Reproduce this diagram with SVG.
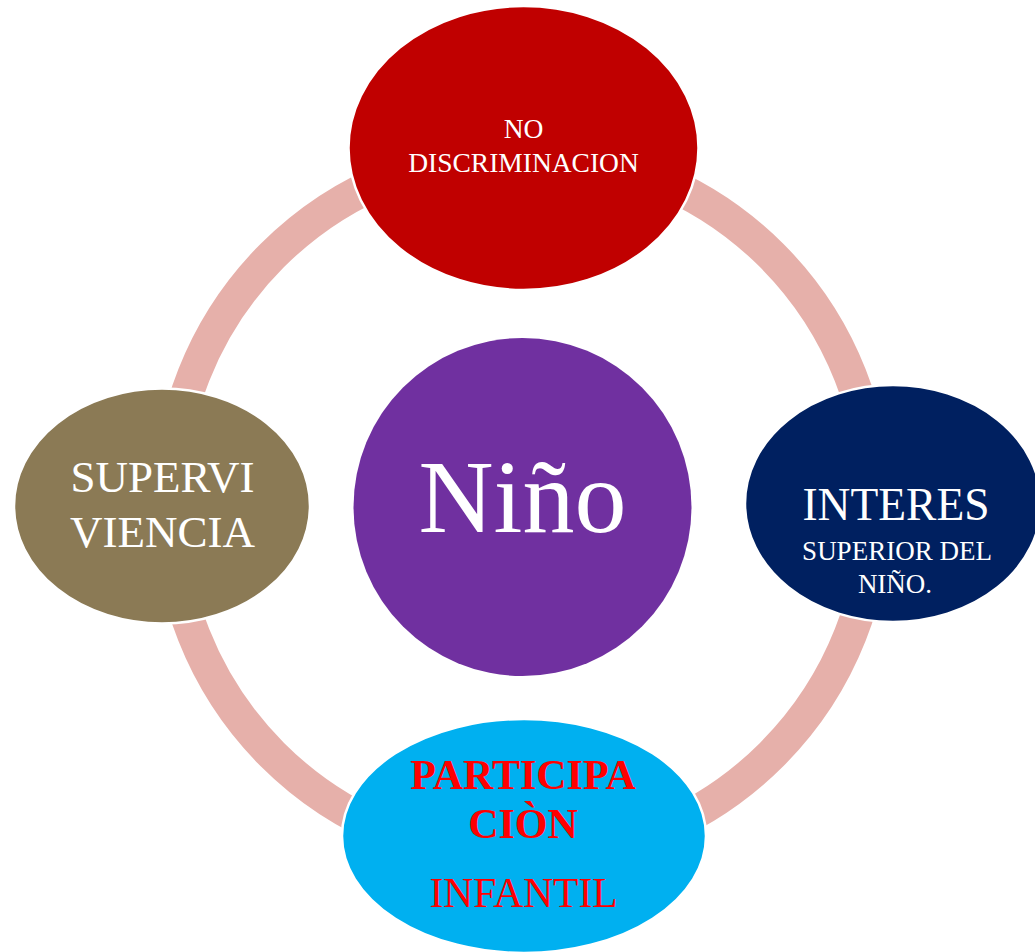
<svg xmlns="http://www.w3.org/2000/svg" width="1035" height="952" viewBox="0 0 1035 952">
<style>
.node{stroke:#ffffff;stroke-width:2.5}
.t{font-family:"Liberation Serif","Times New Roman",serif;fill:#ffffff;text-anchor:middle}
.r{font-family:"Liberation Serif","Times New Roman",serif;fill:#ff0000;text-anchor:middle}
</style>
<rect width="1035" height="952" fill="#ffffff"/>
<g id="connectors">
<circle cx="522" cy="505" r="353" fill="none" stroke="#E6B0AA" stroke-width="33"/>
</g>
<g id="node-nino">
<circle cx="522.5" cy="507" r="169" fill="#7030A0"/>
<text class="t" x="522.5" y="532" font-size="104">Niño</text>
</g>
<g id="node-no-discriminacion">
<ellipse class="node" cx="523.5" cy="148" rx="175" ry="142" fill="#C00000"/>
<text class="t" x="523.5" y="138" font-size="27.5">NO</text>
<text class="t" x="523.5" y="172" font-size="27.5">DISCRIMINACION</text>
</g>
<g id="node-supervivencia">
<ellipse class="node" cx="162" cy="506" rx="148" ry="117.5" fill="#8B7A55"/>
<text class="t" x="162.5" y="492" font-size="45">SUPERVI</text>
<text class="t" x="162.5" y="547" font-size="45">VIENCIA</text>
</g>
<g id="node-interes">
<ellipse class="node" cx="893" cy="503.5" rx="148" ry="118.5" fill="#002060"/>
<text class="t" x="896" y="520" font-size="45.5">INTERES</text>
<text class="t" x="897" y="560" font-size="27">SUPERIOR DEL</text>
<text class="t" x="895" y="593" font-size="27">NIÑO.</text>
</g>
<g id="node-participacion">
<ellipse class="node" cx="524" cy="836" rx="182" ry="117" fill="#00B0F0"/>
<text class="r" x="523" y="789" font-size="42" font-weight="bold">PARTICIPA</text>
<text class="r" x="523" y="838" font-size="42" font-weight="bold">CIÒN</text>
<text class="r" x="523.5" y="907" font-size="41.5">INFANTIL</text>
</g>
</svg>
